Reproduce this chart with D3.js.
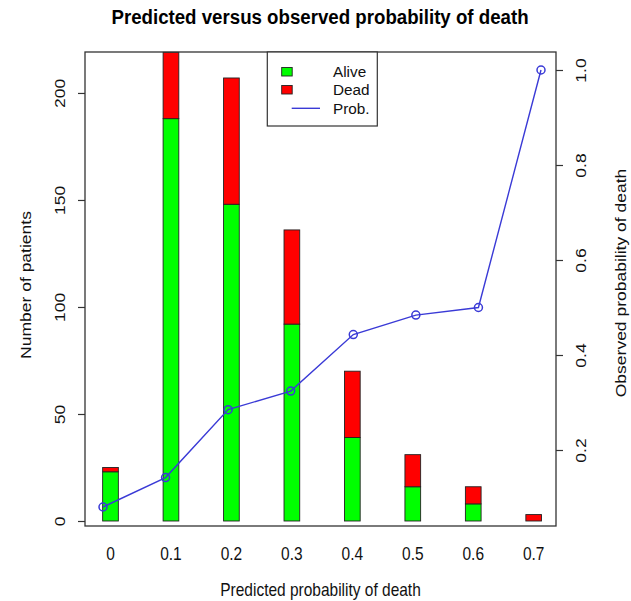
<!DOCTYPE html>
<html>
<head>
<meta charset="utf-8">
<script src="https://cdn.jsdelivr.net/npm/d3@7"></script>
<style>
html,body{margin:0;padding:0;background:#fff;}
svg{display:block;font-family:"Liberation Sans",Arial,Helvetica,sans-serif;}
</style>
</head>
<body>
<svg id="chart" width="631" height="601"></svg>
<script>
// ---- data ----
const categories = ["0","0.1","0.2","0.3","0.4","0.5","0.6","0.7"];
const alive      = [23, 188, 148, 92, 39, 16, 8, 0];
const dead       = [2, 31, 59, 44, 31, 15, 8, 3];
const observed   = [0.08, 0.142, 0.285, 0.324, 0.443, 0.484, 0.5, 1.0];
const leftTicks  = [0, 50, 100, 150, 200];
const rightTicks = [0.2, 0.4, 0.6, 0.8, 1.0];
const legendLabels = ["Alive", "Dead", "Prob."];

const title  = "Predicted versus observed probability of death";
const xTitle = "Predicted probability of death";
const yTitle = "Number of patients";
const y2Title = "Observed probability of death";

// ---- layout ----
const box = {left: 85, right: 556, top: 52, bottom: 526};
const SX = 0.885;          // horizontal squeeze of text (reference is stretched vertically)
const FS = 17.5;
const colAlive = "#00ff00", colDead = "#ff0000", colLine = "#3a3ad6";

const svg = d3.select("#chart");

const xBar = d3.scalePoint().domain(categories).range([110.5, 533.7]);
const xLine = d3.scalePoint().domain(categories).range([103, 541]);
const yLeft = d3.scaleLinear().domain([0, 219]).range([521, 52.3]);
const yRight = d3.scaleLinear().domain([0, 1]).range([545, 70]);
const barW = 15.7;

// bars
const stacked = categories.map((c, i) => ({c, a: alive[i], d: dead[i]}));
const g = svg.append("g");
g.selectAll("rect.alive").data(stacked).join("rect")
  .attr("class","alive")
  .attr("x", d => xBar(d.c) - barW/2)
  .attr("width", barW)
  .attr("y", d => yLeft(d.a))
  .attr("height", d => yLeft(0) - yLeft(d.a))
  .attr("fill", colAlive).attr("stroke", "#222").attr("stroke-width", 0.9)
  .style("display", d => d.a > 0 ? null : "none");
g.selectAll("rect.dead").data(stacked).join("rect")
  .attr("class","dead")
  .attr("x", d => xBar(d.c) - barW/2)
  .attr("width", barW)
  .attr("y", d => yLeft(d.a + d.d))
  .attr("height", d => yLeft(d.a) - yLeft(d.a + d.d))
  .attr("fill", colDead).attr("stroke", "#222").attr("stroke-width", 0.9);

// line + points
const lineData = categories.map((c, i) => ({c, p: observed[i]}));
g.append("path").datum(lineData)
  .attr("fill","none").attr("stroke", colLine).attr("stroke-width", 1.4)
  .attr("d", d3.line().x(d => xLine(d.c)).y(d => yRight(d.p)));
g.selectAll("circle.pt").data(lineData).join("circle")
  .attr("class","pt")
  .attr("cx", d => xLine(d.c)).attr("cy", d => yRight(d.p)).attr("r", 4)
  .attr("fill", "none").attr("stroke", colLine).attr("stroke-width", 1.5);

// box
svg.append("rect")
  .attr("x", box.left).attr("y", box.top)
  .attr("width", box.right - box.left).attr("height", box.bottom - box.top)
  .attr("fill","none").attr("stroke","#333").attr("stroke-width",1.3);

// left axis
const axL = svg.append("g").attr("transform", `translate(${box.left},0)`)
  .call(d3.axisLeft(yLeft).tickValues(leftTicks).tickSize(7).tickFormat(d3.format("d")));
axL.select(".domain").remove();
axL.selectAll(".tick line").attr("stroke","#333").attr("stroke-width",1.2);
axL.selectAll(".tick text")
  .attr("x", null).attr("dy", null)
  .attr("text-anchor","middle")
  .attr("transform", `translate(-20,0) rotate(-90) scale(1,${SX})`)
  .attr("font-size", FS).attr("fill","#111").attr("font-family", null);

// right axis
const axR = svg.append("g").attr("transform", `translate(${box.right},0)`)
  .call(d3.axisRight(yRight).tickValues(rightTicks).tickSize(7).tickFormat(d3.format(".1f")));
axR.select(".domain").remove();
axR.selectAll(".tick line").attr("stroke","#333").attr("stroke-width",1.2);
axR.selectAll(".tick text")
  .attr("x", null).attr("dy", null)
  .attr("text-anchor","middle")
  .attr("transform", `translate(30,0) rotate(-90) scale(1,${SX})`)
  .attr("font-size", FS).attr("fill","#111").attr("font-family", null);

// x category labels
svg.append("g").selectAll("text").data(categories).join("text")
  .attr("transform", d => `translate(${xBar(d)},560) scale(${SX},1)`)
  .attr("text-anchor","middle").attr("font-size", FS).attr("fill","#111")
  .text(d => d);

// titles
svg.append("text")
  .attr("transform", `translate(320,23.5) scale(0.89,1)`)
  .attr("text-anchor","middle").attr("font-size", 21).attr("font-weight","bold").attr("fill","#000")
  .text(title);
svg.append("text")
  .attr("transform", `translate(320.5,596) scale(${SX},1)`)
  .attr("text-anchor","middle").attr("font-size", FS).attr("fill","#111")
  .text(xTitle);
svg.append("text")
  .attr("transform", `translate(31,285) rotate(-90) scale(1,${SX})`)
  .attr("text-anchor","middle").attr("font-size", FS).attr("fill","#111")
  .text(yTitle);
svg.append("text")
  .attr("transform", `translate(626,283) rotate(-90) scale(1,${SX})`)
  .attr("text-anchor","middle").attr("font-size", FS).attr("fill","#111")
  .text(y2Title);

// legend
const lg = svg.append("g");
lg.append("rect").attr("x", 267.3).attr("y", box.top).attr("width", 110).attr("height", 74)
  .attr("fill","#fff").attr("stroke","#333").attr("stroke-width",1.2);
const rowY = [72, 90, 108.3];
lg.append("rect").attr("x", 281.7).attr("y", rowY[0]-4.5).attr("width", 10.5).attr("height", 8.5)
  .attr("fill", colAlive).attr("stroke","#222").attr("stroke-width",0.9);
lg.append("rect").attr("x", 281.7).attr("y", rowY[1]-4.5).attr("width", 10.5).attr("height", 8.5)
  .attr("fill", colDead).attr("stroke","#222").attr("stroke-width",0.9);
lg.append("line").attr("x1", 291.7).attr("x2", 320).attr("y1", rowY[2]).attr("y2", rowY[2])
  .attr("stroke", colLine).attr("stroke-width", 1.4);
lg.selectAll("text").data(legendLabels).join("text")
  .attr("x", 333).attr("y", (d,i) => rowY[i] + 5.3)
  .attr("font-size", 15.3).attr("fill","#111")
  .text(d => d);
</script>
</body>
</html>
